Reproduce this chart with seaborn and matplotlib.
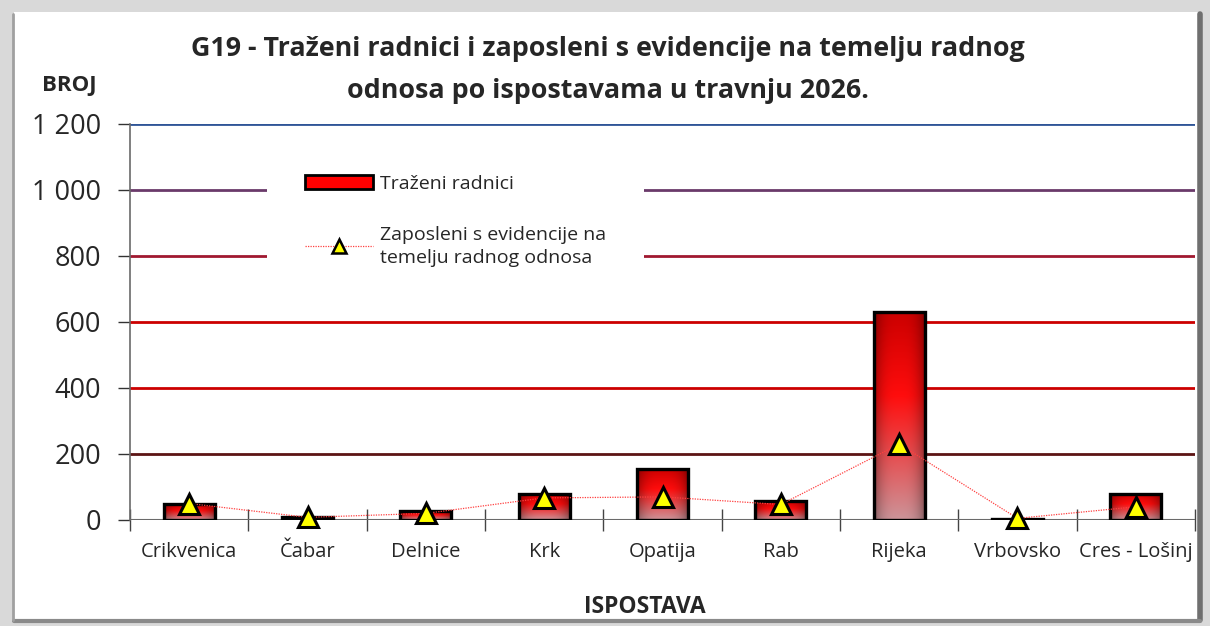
import numpy as np
import pandas as pd
import matplotlib
matplotlib.use("Agg")
import matplotlib.pyplot as plt
import seaborn as sns
from matplotlib.patches import Rectangle, Patch
from matplotlib.lines import Line2D

ispostave = ["Crikvenica", "Čabar", "Delnice", "Krk", "Opatija", "Rab", "Rijeka", "Vrbovsko", "Cres - Lošinj"]
trazeni_radnici = [48, 9, 27, 80, 155, 57, 630, 3, 79]
zaposleni = [50, 8, 20, 67, 70, 47, 230, 5, 40]
y_ticks = [0, 200, 400, 600, 800, 1000, 1200]
y_tick_labels = ["0", "200", "400", "600", "800", "1 000", "1 200"]

sns.set_style("white")
plt.rcParams["font.family"] = ["Open Sans", "DejaVu Sans"]

W, H = 1210, 626
fig = plt.figure(figsize=(W / 100, H / 100), dpi=100)
fig.patch.set_facecolor("#d9d9d9")

def fx(px):
    return px / W

def fy(py):
    return 1 - py / H

# frame
fig.patches.append(Rectangle((fx(14), fy(620)), fx(1199) - fx(14), fy(12) - fy(620),
                             transform=fig.transFigure, facecolor="white",
                             edgecolor="none", zorder=-10))
fig.lines.append(Line2D([fx(1200), fx(1200)], [fy(620), fy(14)], transform=fig.transFigure,
                        color="#6f6f6f", lw=4, zorder=-9))
fig.lines.append(Line2D([fx(14), fx(1200)], [fy(621), fy(621)], transform=fig.transFigure,
                        color="#8a8a8a", lw=3, zorder=-9))
fig.lines.append(Line2D([fx(13), fx(13)], [fy(620), fy(14)], transform=fig.transFigure,
                        color="#a0a0a0", lw=2, zorder=-9))

ax = fig.add_axes([fx(130), fy(520), fx(1195) - fx(130), fy(124) - fy(520)])
ax.set_facecolor("none")
ax.set_zorder(1)

df = pd.DataFrame({"Ispostava": ispostave, "Traženi radnici": trazeni_radnici,
                   "Zaposleni": zaposleni})

sns.barplot(data=df, x="Ispostava", y="Traženi radnici", ax=ax, width=0.43,
            color="red", edgecolor="black", linewidth=2.4, zorder=3)

# gradient fill for bars
ny, nx = 100, 40
t = np.linspace(0, 1, ny)[:, None]           # 0 bottom, 1 top
s = np.linspace(-1, 1, nx)[None, :]
top = np.array([0.80, 0.0, 0.0])
mid = np.array([1.0, 0.05, 0.05])
bot = np.array([0.80, 0.58, 0.60])
col = np.zeros((ny, nx, 3))
for c in range(3):
    upper = mid[c] + (top[c] - mid[c]) * np.clip((t - 0.6) / 0.4, 0, 1)
    lower = bot[c] + (mid[c] - bot[c]) * np.clip(t / 0.6, 0, 1)
    v = np.where(t >= 0.6, upper, lower)
    col[:, :, c] = v * (1 - 0.35 * np.abs(s) ** 3)
col = np.clip(col, 0, 1)
for p in list(ax.patches):
    x0, y0 = p.get_x(), p.get_y()
    w, h = p.get_width(), p.get_height()
    if h <= 0:
        continue
    im = ax.imshow(col, extent=[x0, x0 + w, y0, y0 + h], origin="lower",
                   aspect="auto", zorder=3.1, interpolation="bilinear")
    im.set_clip_path(p)
    p.set_facecolor("none")
    p.set_zorder(3.2)

ax.plot(np.arange(len(ispostave)), zaposleni, linestyle=(0, (1, 1)), color="#ff4040",
        lw=0.9, marker="^", markersize=15, markerfacecolor="#ffff00",
        markeredgecolor="black", markeredgewidth=2.2, zorder=5, clip_on=False)

ax.set_xlim(-0.5, len(ispostave) - 0.5)
ax.set_ylim(0, 1200)

grid_colors = {200: "#5c1414", 400: "#cc0000", 600: "#cc0000", 800: "#a01830",
               1000: "#6a3a6a", 1200: "#2f5597"}
for yv, c in grid_colors.items():
    ax.axhline(yv, color=c, lw=2, zorder=1)
ax.axhline(0, color="#6a6a6a", lw=1.5, zorder=2)

for sp in ["top", "right", "bottom"]:
    ax.spines[sp].set_visible(False)
ax.spines["left"].set_color("#6a6a6a")
ax.spines["left"].set_linewidth(1.2)

ax.set_yticks(y_ticks)
ax.set_yticklabels(y_tick_labels, fontsize=19.5)
ax.tick_params(axis="y", direction="out", length=9, width=1, color="#333333", pad=12, left=True)
ax.set_xticks(np.arange(len(ispostave)))
ax.set_xticklabels(ispostave, fontsize=14.5)
ax.tick_params(axis="x", which="major", length=0, pad=16)
ax.set_xticks(np.arange(-0.5, len(ispostave)), minor=True)
ax.tick_params(axis="x", which="minor", direction="inout", length=16, width=1,
               color="#444444", bottom=True)
ax.set_xlabel("")
ax.set_ylabel("")

fig.text(fx(608), fy(70), "G19 - Traženi radnici i zaposleni s evidencije na temelju radnog\n"
         "odnosa po ispostavama u travnju 2026.", ha="center", va="center",
         fontsize=19.4, fontweight="bold", linespacing=1.75)
fig.text(fx(69), fy(85), "BROJ", ha="center", va="center", fontsize=16, fontweight="bold")
fig.text(fx(645), fy(607), "ISPOSTAVA", ha="center", va="center", fontsize=16.5, fontweight="bold")

handles = [Patch(facecolor="red", edgecolor="black", linewidth=2),
           Line2D([0], [0], linestyle=(0, (1, 1)), color="#ff4040", lw=0.9, marker="^",
                  markersize=10, markerfacecolor="#ffff00", markeredgecolor="black",
                  markeredgewidth=1.8)]
labels = ["Traženi radnici", "Zaposleni s evidencije na\ntemelju radnog odnosa"]
leg = fig.legend(handles, labels, loc="upper left",
                 bbox_to_anchor=(fx(257), fy(127)), bbox_transform=fig.transFigure,
                 frameon=True, facecolor="white", edgecolor="none", framealpha=1,
                 fontsize=14, handlelength=3.5, handleheight=0.7, labelspacing=1.7,
                 borderpad=1.95, handletextpad=0.35, fancybox=False)
leg.set_zorder(10)
for txt in leg.get_texts():
    txt.set_linespacing(1.35)

fig.savefig("out.png", dpi=100, facecolor=fig.get_facecolor())
